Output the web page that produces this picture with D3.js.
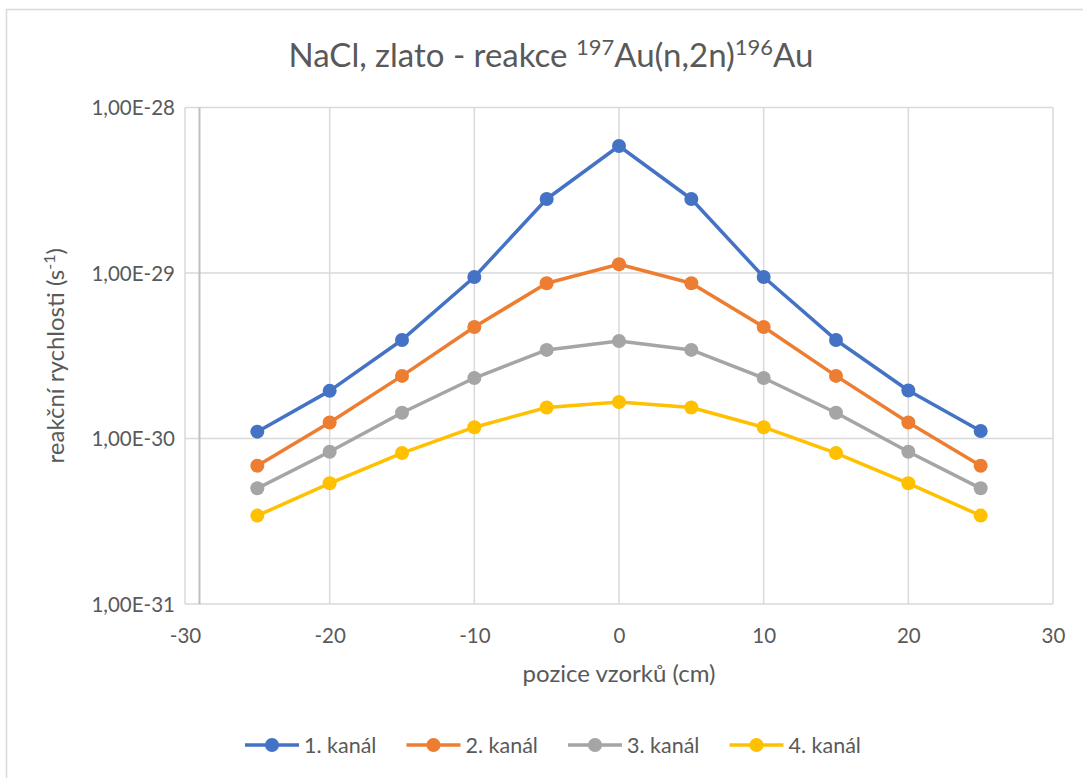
<!DOCTYPE html>
<html>
<head>
<meta charset="utf-8">
<script src="https://cdn.jsdelivr.net/npm/d3@7"></script>
<style>
  html, body { margin: 0; padding: 0; background: #fff; }
  svg { display: block; }
  text { font-family: Lato, "Open Sans", sans-serif; fill: #595959; }
</style>
</head>
<body>
<svg id="chart" width="1083" height="778"></svg>
<script>
const positions = [-25, -20, -15, -10, -5, 0, 5, 10, 15, 20, 25];
const kanal1 = [1.10e-30, 1.94e-30, 3.94e-30, 9.46e-30, 2.80e-29, 5.85e-29, 2.80e-29, 9.46e-30, 3.94e-30, 1.95e-30, 1.11e-30];
const kanal2 = [6.85e-31, 1.25e-30, 2.39e-30, 4.72e-30, 8.67e-30, 1.13e-29, 8.67e-30, 4.72e-30, 2.39e-30, 1.25e-30, 6.85e-31];
const kanal3 = [5.00e-31, 8.32e-31, 1.43e-30, 2.32e-30, 3.43e-30, 3.88e-30, 3.43e-30, 2.32e-30, 1.43e-30, 8.32e-31, 5.00e-31];
const kanal4 = [3.42e-31, 5.36e-31, 8.17e-31, 1.17e-30, 1.54e-30, 1.66e-30, 1.54e-30, 1.17e-30, 8.17e-31, 5.36e-31, 3.42e-31];
const seriesNames = ["1. kanál", "2. kanál", "3. kanál", "4. kanál"];
const seriesColors = ["#4472C4", "#ED7D31", "#A5A5A5", "#FFC000"];
const xTicks = [-30, -20, -10, 0, 10, 20, 30];
const yTicks = [1e-28, 1e-29, 1e-30, 1e-31];
const yTickLabels = ["1,00E-28", "1,00E-29", "1,00E-30", "1,00E-31"];
const xAxisCross = -29;

const series = [kanal1, kanal2, kanal3, kanal4].map((vals, i) => ({
  name: seriesNames[i], color: seriesColors[i],
  points: positions.map((p, j) => ({ x: p, y: vals[j] }))
}));

const svg = d3.select("#chart");

// chart border
svg.append("rect").attr("x", 6.5).attr("y", 9.5).attr("width", 1200).attr("height", 900)
  .attr("fill", "none").attr("stroke", "#d9d9d9").attr("stroke-width", 1.5);

const x = d3.scaleLinear().domain([-30, 30]).range([185, 1053]);
const y = d3.scaleLog().domain([1e-31, 1e-28]).range([604, 107.5]);

// gridlines
const grid = svg.append("g");
grid.selectAll(".vg").data(xTicks).join("line")
  .attr("x1", d => x(d)).attr("x2", d => x(d))
  .attr("y1", y(1e-28)).attr("y2", y(1e-31))
  .attr("stroke", "#d9d9d9").attr("stroke-width", 1.5);
grid.selectAll(".hg").data(yTicks).join("line")
  .attr("x1", x(-30)).attr("x2", x(30))
  .attr("y1", d => y(d)).attr("y2", d => y(d))
  .attr("stroke", "#d9d9d9").attr("stroke-width", 1.5);

// vertical axis line (crosses at x = -29)
svg.append("line")
  .attr("x1", x(xAxisCross)).attr("x2", x(xAxisCross))
  .attr("y1", y(1e-28)).attr("y2", y(1e-31))
  .attr("stroke", "#bfbfbf").attr("stroke-width", 2);

// x axis tick labels
const xAxis = d3.axisBottom(x).tickValues(xTicks).tickSize(0).tickPadding(0).tickFormat(d => d3.format("d")(d).replace("−", "-"));
const xg = svg.append("g").attr("transform", `translate(0, ${y(1e-31)})`).call(xAxis);
xg.select(".domain").remove();
xg.selectAll("text").attr("dy", null).attr("y", 39).attr("font-size", 20.5)
  .style("font-family", "Lato, 'Open Sans', sans-serif").attr("fill", "#595959");

// y axis tick labels
const yAxis = d3.axisLeft(y).tickValues(yTicks).tickSize(0).tickPadding(0)
  .tickFormat((d, i) => yTickLabels[i]);
const yg = svg.append("g").attr("transform", `translate(175, 0)`).call(yAxis);
yg.select(".domain").remove();
yg.selectAll("text").attr("x", 0).attr("dy", "0.35em").attr("font-size", 20.5)
  .style("font-family", "Lato, 'Open Sans', sans-serif").attr("fill", "#595959");

// series
const line = d3.line().x(d => x(d.x)).y(d => y(d.y));
series.forEach(s => {
  svg.append("path").datum(s.points)
    .attr("d", line).attr("fill", "none")
    .attr("stroke", s.color).attr("stroke-width", 3.5).attr("stroke-linejoin", "round");
  svg.append("g").selectAll("circle").data(s.points).join("circle")
    .attr("cx", d => x(d.x)).attr("cy", d => y(d.y)).attr("r", 7)
    .attr("fill", s.color);
});

// title
const title = svg.append("text").attr("x", 551).attr("y", 67)
  .attr("text-anchor", "middle").attr("font-size", 33);
title.append("tspan").text("NaCl, zlato - reakce ");
title.append("tspan").attr("font-size", 22).attr("dy", -12).text("197");
title.append("tspan").attr("dy", 12).text("Au(n,2n)");
title.append("tspan").attr("font-size", 22).attr("dy", -12).text("196");
title.append("tspan").attr("dy", 12).text("Au");

// x axis title
svg.append("text").attr("x", x(0)).attr("y", 682).attr("text-anchor", "middle")
  .attr("font-size", 24).text("pozice vzorků (cm)");

// y axis title
const yt = svg.append("text").attr("transform", `translate(64, ${(y(1e-28) + y(1e-31)) / 2}) rotate(-90)`)
  .attr("text-anchor", "middle").attr("font-size", 24);
yt.append("tspan").text("reakční rychlosti (s");
yt.append("tspan").attr("font-size", 16).attr("dy", -9).text("-1");
yt.append("tspan").attr("dy", 9).text(")");

// legend
const legend = svg.append("g").attr("transform", "translate(245, 745)");
const items = legend.selectAll("g").data(series).join("g")
  .attr("transform", (d, i) => `translate(${i * 161.5}, 0)`);
items.append("line").attr("x1", 0).attr("x2", 54).attr("y1", 0).attr("y2", 0)
  .attr("stroke", d => d.color).attr("stroke-width", 3.5);
items.append("circle").attr("cx", 27).attr("cy", 0).attr("r", 7).attr("fill", d => d.color);
items.append("text").attr("x", 59).attr("y", 7.5).attr("font-size", 21.5).text(d => d.name);
</script>
</body>
</html>
